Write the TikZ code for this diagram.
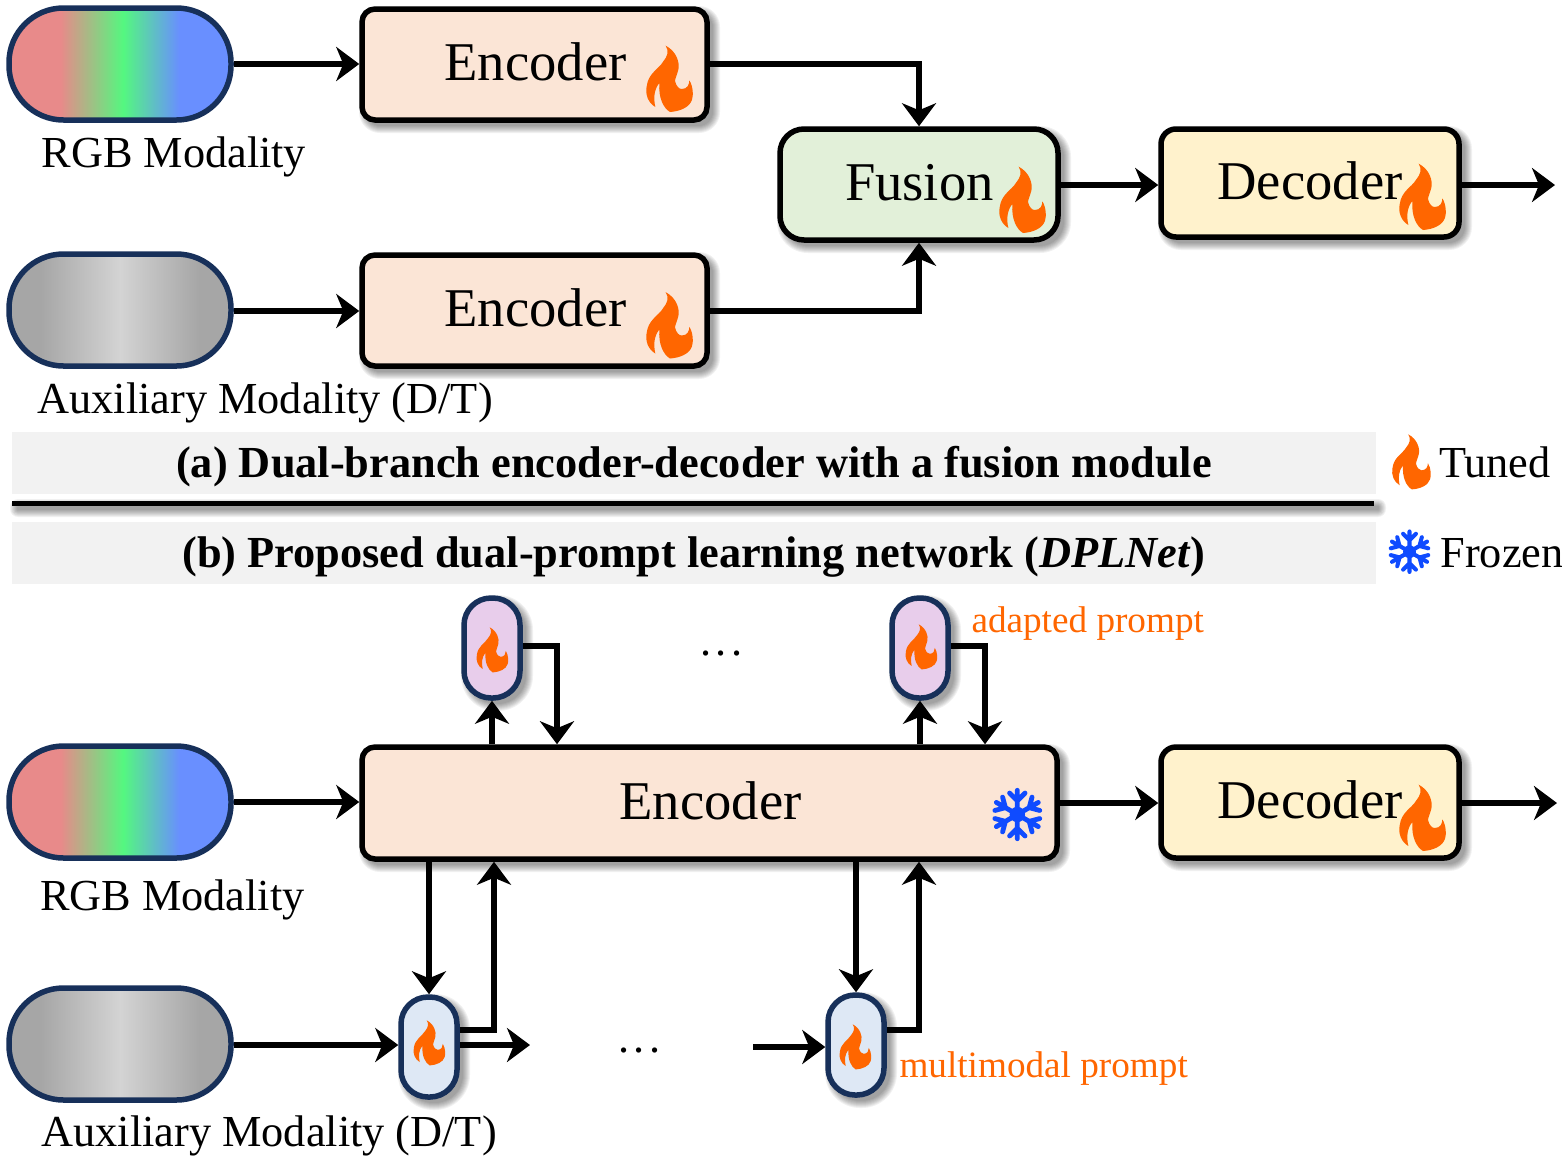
\documentclass[tikz,border=0pt]{standalone}
\usepackage{fontspec}
\setmainfont{Liberation Serif}
\usetikzlibrary{arrows.meta,calc}
\definecolor{navy}{HTML}{17305A}
\definecolor{flamec}{HTML}{FF6600}
\definecolor{snowc}{HTML}{0F4BFF}
\definecolor{encf}{HTML}{FBE5D6}
\definecolor{fusf}{HTML}{E2F0D9}
\definecolor{decf}{HTML}{FFF2CC}
\definecolor{banf}{HTML}{F2F2F2}
\definecolor{adaf}{HTML}{E8CDEB}
\definecolor{mulf}{HTML}{DEE8F5}
\pgfdeclarehorizontalshading{rgbgrad}{100bp}{rgb(0bp)=(0.91,0.54,0.54); rgb(36.6bp)=(0.91,0.54,0.54); rgb(50.7bp)=(0.33,0.97,0.5); rgb(63.4bp)=(0.41,0.56,1); rgb(100bp)=(0.41,0.56,1)}
\pgfdeclarehorizontalshading{graygrad}{100bp}{rgb(0bp)=(0.65,0.65,0.65); rgb(32bp)=(0.65,0.65,0.65); rgb(50bp)=(0.83,0.83,0.83); rgb(68bp)=(0.65,0.65,0.65); rgb(100bp)=(0.65,0.65,0.65)}
\tikzset{
  x=1pt,y=-1pt,
  boxline/.style={draw=black,line width=5.5pt,inner sep=0pt},
  capsule/.style={draw=navy,line width=5.5pt,inner sep=0pt},
  conn/.style={line width=5.2pt,-{Stealth[length=23pt,width=34pt,inset=7pt]}},
  biglabel/.style={anchor=base west,inner sep=0pt,outer sep=0pt,font=\fontsize{54.6}{60}\selectfont},
  modlabel/.style={anchor=base west,inner sep=0pt,outer sep=0pt,font=\fontsize{44.3}{50}\selectfont},
  headlabel/.style={anchor=base,inner sep=0pt,outer sep=0pt,font=\fontsize{44.35}{50}\selectfont\bfseries},
  promptlabel/.style={anchor=base west,inner sep=0pt,outer sep=0pt,text=flamec,font=\fontsize{37.2}{42}\selectfont},
}
\newcommand\softshadow[5]{%
  \foreach \i in {0,...,7}{%
    \fill[black,opacity=.055,rounded corners=#5+\i] (#1+5-\i,#2+5-\i) rectangle (#3+5+\i,#4+5+\i);}}
% \bx{name}{x1}{y1}{x2}{y2}{radius}{options}
\newcommand\bx[7]{%
  \node[minimum width=#4-#2-2,minimum height=#5-#3-2,rounded corners=#6,#7] (#1) at ({(#2+#4)/2},{(#3+#5)/2}) {};}
\newcommand\flame[3]{%
  \fill[flamec,shift={(#1,#2)},scale=#3/3]
   (-10,-100) .. controls (23,-83) and (33,-48) .. (28,-28)
   .. controls (24,-12) and (18,0) .. (18,6)
   .. controls (22,22) and (30,30) .. (38,30)
   .. controls (55,30) and (61,17) .. (61,4)
   .. controls (73,22) and (73,52) .. (69,62)
   .. controls (62,85) and (33,97) .. (3,99)
   .. controls (-17,87) and (-32,57) .. (-29,12)
   .. controls (-45,32) and (-47,57) .. (-41,84)
   .. controls (-62,72) and (-72,47) .. (-67,22)
   .. controls (-62,-18) and (-32,-28) .. (-17,-53)
   .. controls (-5,-68) and (1,-83) .. (-10,-100) -- cycle;}
\newcommand\snow[3]{%
  \begin{scope}[shift={(#1,#2)},scale=#3]
  \foreach \a in {0,60,...,300}{%
    \draw[snowc,line width=4.4pt*#3,rotate=\a,line cap=round,line join=round]
      (0,0) -- (0,-22) (-7,-19.5) -- (0,-12.5) -- (7,-19.5);}
  \fill[snowc] (0,0) circle (7);
  \end{scope}}
\newcommand\hdots{.\hspace{4.6pt}.\hspace{4.6pt}.}
\begin{document}
\begin{tikzpicture}
\useasboundingbox (0,0) rectangle (1562,1160);
% part (a)
\bx{capA}{8}{7}{232}{121}{54.5}{capsule,shading=rgbgrad}
\bx{capB}{8}{253}{232}{367}{54.5}{capsule,shading=graygrad}
\softshadow{361}{8}{708}{121}{14}
\bx{encA}{361}{8}{708}{121}{13}{boxline,fill=encf}
\softshadow{361}{254}{708}{367}{14}
\bx{encB}{361}{254}{708}{367}{13}{boxline,fill=encf}
\softshadow{779}{128}{1059}{241}{24}
\bx{fus}{779}{128}{1059}{241}{24}{boxline,fill=fusf}
\softshadow{1160}{128}{1460}{238}{16}
\bx{decA}{1160}{128}{1460}{238}{15}{boxline,fill=decf}
\node[biglabel] (tEncA) at (444.5,80) {Encoder};
\node[biglabel] (tEncB) at (444.5,326) {Encoder};
\node[biglabel] (tFus) at (845,200) {Fusion};
\node[biglabel] (tDecA) at (1217.5,199) {Decoder};
\node[modlabel] (tRgbA) at (41.5,167.5) {RGB Modality};
\node[modlabel] (tAuxA) at (37.5,413.5) {Auxiliary Modality (D/T)};
\flame{669}{79}{1}
\flame{669}{325.5}{1}
\flame{1022}{200}{1}
\flame{1422}{197}{1}
\coordinate (outA) at (1555,185);
\draw[conn] (capA.east |- 0,64) -- (encA.west |- 0,64);
\draw[conn] (capB.east |- 0,311) -- (encB.west |- 0,311);
\draw[conn] (encA.east |- 0,64) -| (fus.north);
\draw[conn] (encB.east |- 0,311) -| (fus.south);
\draw[conn] (fus.east |- 0,185) -- (decA.west |- 0,185);
\draw[conn] (decA.east |- 0,185) -- (outA);
% banners
\node[fill=banf,minimum width=1364,minimum height=62,inner sep=0pt] (banA) at (694,463) {};
\node[headlabel] (tBanA) at (694,477.5) {(a) Dual-branch encoder-decoder with a fusion module};
\softshadow{12}{501}{1374}{505}{1}
\fill[black] (12,500.5) rectangle (1374,505.5);
\node[fill=banf,minimum width=1364,minimum height=62,inner sep=0pt] (banB) at (694,553) {};
\node[headlabel] (tBanB) at (694,567.5) {(b) Proposed dual-prompt learning network (\textit{DPLNet})};
\flame{1411}{462}{.83}
\node[modlabel] (tTuned) at (1439,477.5) {Tuned};
\snow{1409.5}{551.7}{.92}
\node[modlabel] (tFrozen) at (1440.5,567.5) {Frozen};
% part (b)
\bx{capC}{8}{745}{232}{859}{54.5}{capsule,shading=rgbgrad}
\bx{capD}{8}{987}{232}{1101}{54.5}{capsule,shading=graygrad}
\softshadow{361}{746}{1058}{860}{14}
\bx{enc}{361}{746}{1058}{860}{13}{boxline,fill=encf}
\softshadow{1160}{746}{1460}{859}{16}
\bx{decB}{1160}{746}{1460}{859}{15}{boxline,fill=decf}
\node[biglabel] (tEnc) at (619.5,819) {Encoder};
\node[biglabel] (tDecB) at (1217.5,818) {Decoder};
\node[modlabel] (tRgbB) at (40,910.5) {RGB Modality};
\node[modlabel] (tAuxB) at (41.5,1146.5) {Auxiliary Modality (D/T)};
\snow{1017.3}{814.5}{1.1}
\flame{1422}{818}{1}
% prompts
\softshadow{463}{597}{521}{699}{28}
\bx{pA}{463}{597}{521}{699}{27}{capsule,fill=adaf}
\softshadow{891}{597}{949}{699}{28}
\bx{pB}{891}{597}{949}{699}{27}{capsule,fill=adaf}
\softshadow{400}{996}{458}{1098}{28}
\bx{pC}{400}{996}{458}{1098}{27}{capsule,fill=mulf}
\softshadow{827}{994}{885}{1096}{28}
\bx{pD}{827}{994}{885}{1096}{27}{capsule,fill=mulf}
\flame{492}{650}{.68}
\flame{921}{647}{.68}
\flame{429}{1043}{.68}
\flame{855}{1047}{.68}
\node[modlabel] (dotsA) at (700,655) {\hdots};
\node[modlabel] (dotsB) at (618,1052) {\hdots};
\node[promptlabel] (tAda) at (971.5,632) {adapted prompt};
\node[promptlabel] (tMul) at (899.5,1077) {multimodal prompt};
\draw[conn] (capC.east |- 0,802) -- (enc.west |- 0,802);
\draw[conn] (enc.east |- 0,803) -- (decB.west |- 0,803);
\coordinate (outB) at (1557,803);
\draw[conn] (decB.east |- 0,803) -- (outB);
\draw[conn] (pA.south |- enc.north) -- (pA.south);
\draw[conn] (pA.east |- 0,646) -| (557,0 |- enc.north);
\draw[conn] (pB.south |- enc.north) -- (pB.south);
\draw[conn] (pB.east |- 0,646) -| (985,0 |- enc.north);
\draw[conn] (pC.north |- enc.south) -- (pC.north);
\draw[conn] (pC.east |- 0,1030) -| (494,0 |- enc.south);
\draw[conn] (pD.north |- enc.south) -- (pD.north);
\draw[conn] (pD.east |- 0,1030) -| (919,0 |- enc.south);
\draw[conn] (capD.east |- 0,1045) -- (pC.west |- 0,1045);
\coordinate (cOut) at (530,1045);
\coordinate (dIn) at (753,1047);
\draw[conn] (pC.east |- 0,1045) -- (cOut);
\draw[conn] (dIn) -- (pD.west |- 0,1047);
\end{tikzpicture}
\end{document}
